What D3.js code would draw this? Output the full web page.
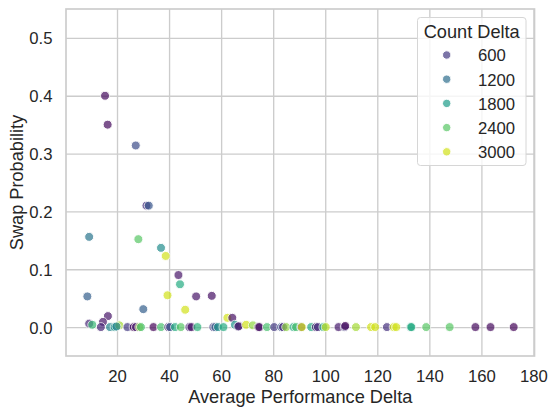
<!DOCTYPE html>
<html><head><meta charset="utf-8">
<script src="https://cdn.jsdelivr.net/npm/d3@7"></script>
<style>body{margin:0;background:#fff}text{font-family:"Liberation Sans",Arial,sans-serif;fill:#262626}</style>
</head><body><svg id="c" width="549" height="408"></svg>
<script>
const perfDelta = [15.4,16.4,27.2,31.3,32.2,9.3,28.2,36.9,38.7,43.6,44.2,8.6,39.4,50.4,56.4,30.1,46.2,16.5,14.6,62.4,64.3,9.3,10.5,65.3,66.9,
13.8,17.3,19.1,20.9,19.8,24.0,26.4,27.3,28.6,29.2,34.0,36.9,39.7,40.4,42.3,44.5,47.8,48.6,50.9,57.0,57.8,58.8,60.9,66.6,69.6,72.2,74.3,74.7,77.6,80.4,83.1,83.8,85.0,87.8,88.8,90.8,91.0,94.6,96.4,97.2,99.3,100.2,105.1,107.5,107.7,111.8,117.6,119.2,123.7,126.3,127.3,132.8,133.1,138.8,147.8,157.7,163.5,172.4];
const swapProb = [0.400,0.350,0.314,0.210,0.210,0.156,0.152,0.137,0.123,0.090,0.074,0.053,0.055,0.053,0.054,0.031,0.030,0.019,0.009,0.016,0.016,0.006,0.004,0.004,0.002,
0,0,0,0.003,0.001,0,0,0,0,0,0,0,0,0,0,0,0,0,0,0,0,0,0,0.001,0.004,0.003,0,0,0,0,0,0,0,0,0,0,0,0,0,0,0,0,0,0,0.002,0,0,0,0,0,0,0,0,0,0,0,0,0];
const countDelta = [150,150,800,500,900,1300,2400,1600,3000,250,2000,1000,3000,250,200,1000,3000,250,250,3000,200,400,2200,1700,100,
400,1500,1700,2800,1500,600,100,300,2800,2300,100,2300,400,900,2000,2400,400,200,2100,600,1000,1700,2000,400,3000,2700,200,200,2300,600,900,400,2700,2000,2300,300,3000,2000,300,500,2000,2900,300,600,100,2800,3000,3000,500,3000,3000,1900,2000,2400,2400,150,150,100];
const legendValues = [600,1200,1800,2400,3000];
const xTicks = [20,40,60,80,100,120,140,160,180];
const yTicks = [0,0.1,0.2,0.3,0.4,0.5];

const svg = d3.select("#c");
const L=66,R=534.5,T=9,B=356;
const x = d3.scaleLinear().domain([0.4,180.4]).range([L,R]);
const y = d3.scaleLinear().domain([-0.05,0.55]).range([B,T]);
const col = d3.scaleSequential(d3.interpolateViridis).domain([60,3220]);

const gx = svg.append("g").attr("transform",`translate(0,${B})`)
  .call(d3.axisBottom(x).tickValues(xTicks).tickSize(-(B-T)).tickPadding(14).tickFormat(d3.format("d")));
const gy = svg.append("g").attr("transform",`translate(${L},0)`)
  .call(d3.axisLeft(y).tickValues(yTicks).tickSize(-(R-L)).tickPadding(13.5).tickFormat(d3.format(".1f")));
[gx,gy].forEach(g=>{
  g.select(".domain").remove();
  g.selectAll(".tick line").attr("stroke","#cccccc").attr("stroke-width",1.33);
  g.selectAll(".tick text").attr("font-size","16.7px").attr("fill","#262626");
});
gx.selectAll(".tick text").attr("dy","0.72em");
gy.selectAll(".tick text").attr("dy","0.36em");
svg.append("rect").attr("x",L).attr("y",T).attr("width",R-L).attr("height",B-T)
  .attr("fill","none").attr("stroke","#cccccc").attr("stroke-width",1.67);

svg.append("g").selectAll("circle").data(perfDelta.map((d,i)=>({x:d,y:swapProb[i],c:countDelta[i]})))
  .join("circle").attr("cx",d=>x(d.x)).attr("cy",d=>y(d.y)).attr("r",4.5)
  .attr("fill",d=>col(d.c)).attr("stroke","#fff").attr("stroke-width",1).attr("opacity",0.7);

svg.append("text").attr("x",(L+R)/2).attr("y",403).attr("text-anchor","middle").attr("font-size","18.2px").text("Average Performance Delta");
svg.append("text").attr("transform",`translate(23,${(T+B)/2}) rotate(-90)`).attr("text-anchor","middle").attr("font-size","18.2px").text("Swap Probability");

const lg = svg.append("g");
lg.append("rect").attr("x",417.5).attr("y",17.5).attr("width",108.5).attr("height",148).attr("rx",3)
  .attr("fill","#fff").attr("fill-opacity",0.8).attr("stroke","#d6d6d6").attr("stroke-width",1);
lg.append("text").attr("x",471.7).attr("y",38).attr("text-anchor","middle").attr("font-size","18.2px").text("Count Delta");
legendValues.forEach((v,i)=>{
  const cy = 55 + i*24.2;
  lg.append("circle").attr("cx",446.7).attr("cy",cy).attr("r",4.2).attr("fill",col(v)).attr("stroke","#fff").attr("stroke-width",1).attr("opacity",0.7);
  lg.append("text").attr("x",478).attr("y",cy+6.3).attr("font-size","16.7px").text(v);
});
</script></body></html>
